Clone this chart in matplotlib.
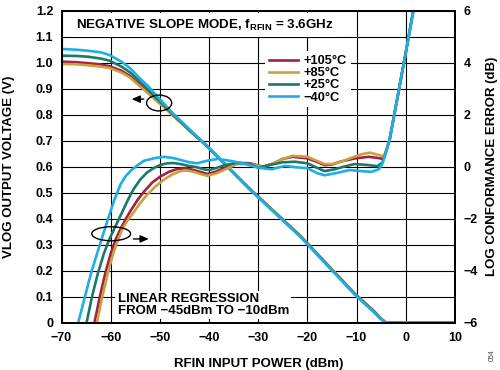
import matplotlib
matplotlib.use("Agg")
import matplotlib.pyplot as plt
from matplotlib.patches import Ellipse

plt.rcParams["font.family"] = ["Liberation Sans", "DejaVu Sans"]
plt.rcParams["font.weight"] = "bold"
plt.rcParams["mathtext.fontset"] = "custom"
plt.rcParams["mathtext.bf"] = "Liberation Sans:bold"
plt.rcParams["mathtext.rm"] = "Liberation Sans:bold"

# legend labels / colours
temps = ["+105°C", "+85°C", "+25°C", "\u221240°C"]
colors = ["#A3203F", "#C9A043", "#1A7A68", "#1EAEE6"]

# VLOG output voltage (left axis), shared input power points
vlog_p = [-70, -67, -64.6, -62, -60.3, -57.8, -56, -54.4, -52.5, -51, -49,
          -47.6, -44.2, -40.6, -32, -21.5, -10.3, -6.5, -5, -4, 0, 10]
vlog_105 = [1.004, 1.002, 0.998, 0.993, 0.987, 0.969, 0.948, 0.921, 0.888, 0.862, 0.828,
            0.803, 0.743, 0.683, 0.52, 0.335, 0.11, 0.045, 0.015, 0.0, 0.0, 0.0]
vlog_85 = [0.995, 0.994, 0.990, 0.985, 0.980, 0.962, 0.942, 0.915, 0.884, 0.858, 0.826,
           0.801, 0.742, 0.682, 0.52, 0.335, 0.11, 0.045, 0.015, 0.0, 0.0, 0.0]
vlog_25 = [1.027, 1.026, 1.023, 1.016, 1.008, 0.985, 0.962, 0.933, 0.898, 0.869, 0.832,
           0.806, 0.744, 0.682, 0.518, 0.333, 0.108, 0.043, 0.013, 0.0, 0.0, 0.0]
vlog_m40 = [1.053, 1.050, 1.046, 1.040, 1.030, 1.004, 0.978, 0.946, 0.912, 0.880, 0.839,
            0.810, 0.748, 0.683, 0.517, 0.331, 0.106, 0.040, 0.012, 0.0, 0.0, 0.0]

# log conformance error (right axis)
err_p_105 = [-65, -63.3, -62.2, -61.1, -60, -59, -58, -56.9, -55.9, -54.5, -53.2, -51.5,
             -49.9, -48.2, -46.5, -44.8, -43.1, -41.8, -40.4, -38.7, -37, -34.4, -31.7,
             -29, -27, -25, -23, -20, -18, -16.5, -15, -13.4, -10.3, -7.5, -5.5, -4.8,
             -4.2, -3.3, -2, 0, 2]
err_105 = [-7.4, -6, -5.0, -4.1, -3.35, -2.8, -2.4, -2.0, -1.68, -1.27, -0.95, -0.6,
           -0.38, -0.2, -0.09, -0.06, -0.13, -0.2, -0.28, -0.2, -0.06, 0.15, 0.13,
           0.0, 0.12, 0.3, 0.38, 0.32, 0.18, 0.06, 0.08, 0.19, 0.32, 0.38, 0.33, 0.3,
           0.48, 1.03, 2.35, 4.4, 6.5]

err_p_85 = [-64.5, -62.8, -61.7, -60.6, -59.5, -58.5, -57.5, -56.5, -55.3, -54, -52.6,
            -51, -49.2, -47.5, -45.8, -44.4, -43.1, -41.8, -40.4, -38.7, -37, -34.4,
            -31.7, -29, -27, -25, -23, -20, -18, -16.5, -15, -13, -11.4, -9, -7.3,
            -5.5, -4.8, -4.2, -3.3, -2, 0, 2]
err_85 = [-7.4, -6, -5.0, -4.1, -3.35, -2.8, -2.35, -2.05, -1.75, -1.4, -1.08,
          -0.78, -0.5, -0.3, -0.17, -0.15, -0.2, -0.28, -0.35, -0.27, -0.13, 0.1,
          0.1, 0.0, 0.12, 0.3, 0.42, 0.38, 0.22, 0.1, 0.1, 0.2, 0.32, 0.48, 0.54,
          0.45, 0.4, 0.5, 1.03, 2.35, 4.4, 6.5]

err_p_25 = [-66.6, -64.9, -63.8, -62.6, -61.4, -60.3, -59.3, -58.3, -57.3, -56.3, -55.3,
            -54, -52.6, -51.2, -49.9, -48.5, -47.2, -45.8, -44.4, -42.5, -41.1, -40,
            -38.5, -37, -34.4, -31.7, -30, -28, -25, -22.5, -20, -18, -16.5, -14.5,
            -13, -10.5, -8, -5.8, -4.8, -4.2, -3.3, -2, 0, 2]
err_25 = [-7.4, -6, -5.0, -4.1, -3.35, -2.8, -2.4, -2.0, -1.6, -1.2, -0.85,
          -0.5, -0.22, -0.05, 0.07, 0.13, 0.14, 0.1, 0.04, -0.02, -0.1, -0.13,
          -0.05, 0.05, 0.15, 0.1, -0.04, 0.05, 0.17, 0.19, 0.13, -0.05, -0.17, -0.1,
          -0.02, 0.1, 0.07, 0.02, 0.15, 0.45, 1.03, 2.35, 4.4, 6.5]

err_p_m40 = [-68.2, -66.6, -65.3, -64, -62.7, -61.7, -60.7, -59.3, -58, -57, -55.9,
             -54.5, -53.2, -51, -49.2, -47.5, -45.8, -44, -42.4, -40.4, -38.2, -35.5,
             -33, -30, -27.3, -24.6, -22.4, -20, -18, -16.5, -14, -11.5, -9, -7, -5.5,
             -4.8, -4.2, -3.3, -2, 0, 2]
err_m40 = [-7.2, -6, -5.05, -4.1, -3.3, -2.7, -2.1, -1.3, -0.68, -0.38, -0.15,
           0.06, 0.23, 0.33, 0.38, 0.34, 0.26, 0.17, 0.13, 0.23, 0.3, 0.22,
           0.12, -0.04, -0.1, 0.03, -0.02, -0.06, -0.25, -0.33, -0.24, -0.13, -0.17,
           -0.2, -0.1, 0.1, 0.45, 1.03, 2.35, 4.4, 6.5]

x_ticks = [-70, -60, -50, -40, -30, -20, -10, 0, 10]
left_ticks = [0, 0.1, 0.2, 0.3, 0.4, 0.5, 0.6, 0.7, 0.8, 0.9, 1.0, 1.1, 1.2]
left_labels = ["0", "0.1", "0.2", "0.3", "0.4", "0.5", "0.6", "0.7", "0.8", "0.9", "1.0", "1.1", "1.2"]
right_ticks = [-6, -4, -2, 0, 2, 4, 6]

vlog = [vlog_105, vlog_85, vlog_25, vlog_m40]
err_p = [err_p_105, err_p_85, err_p_25, err_p_m40]
err = [err_105, err_85, err_25, err_m40]

fig = plt.figure(figsize=(5.0, 3.7), dpi=100)
ax = fig.add_axes([0.123, 0.128, 0.787, 0.843])
ax2 = ax.twinx()

for v, c in zip(vlog, colors):
    ax.plot(vlog_p, v, color=c, lw=1.9, solid_capstyle="butt")
lines = []
for p, e, c, t in zip(err_p, err, colors, temps):
    ln, = ax2.plot(p, e, color=c, lw=1.9, label=t)
    lines.append(ln)

ax.set_xlim(-70, 10)
ax.set_ylim(0, 1.2)
ax2.set_ylim(-6, 6)
ax.set_xticks(x_ticks)
ax.set_xticklabels([str(x).replace("-", "\u2212") for x in x_ticks])
ax.set_yticks(left_ticks)
ax.set_yticklabels(left_labels)
ax2.set_yticks(right_ticks)
ax2.set_yticklabels([str(x).replace("-", "\u2212") for x in right_ticks])

ax.grid(True, color="black", lw=0.8)
ax.set_axisbelow(True)
for a in (ax, ax2):
    for s in a.spines.values():
        s.set_linewidth(1.3)
    a.tick_params(length=0, labelsize=9, pad=6)
ax.tick_params(axis="x", pad=7)

ax.set_xlabel("RFIN INPUT POWER (dBm)", fontsize=9.5, fontweight="bold")
ax.xaxis.set_label_coords(0.5, -0.113)
ax.set_ylabel("VLOG OUTPUT VOLTAGE (V)", fontsize=9.5, fontweight="bold")
ax.yaxis.set_label_coords(-0.118, 0.5)
ax2.set_ylabel("LOG CONFORMANCE ERROR (dB)", fontsize=9.5, fontweight="bold")
ax2.yaxis.set_label_coords(1.078, 0.5)

ax.text(-67.1, 1.145, r"NEGATIVE SLOPE MODE, $\mathbf{f}_{\mathbf{RFIN}}$ = 3.6GHz",
        fontsize=9.6, fontweight="bold", va="center", ha="left", zorder=5,
        bbox=dict(facecolor="white", edgecolor="none", pad=3.5))

ax2.text(-58.6, 0.022 * 10 - 6, "LINEAR REGRESSION\nFROM \u221245dBm TO \u221210dBm",
         fontsize=9.5, fontweight="bold", va="bottom", ha="left", linespacing=0.95,
         zorder=5, bbox=dict(facecolor="white", edgecolor="none", pad=1.5))

ax2.add_patch(Ellipse((-50.15, (0.845 - 0.6) * 10), 5.1, 0.61, fill=False,
                      edgecolor="black", lw=1.0, zorder=6))
ax2.annotate("", xy=(-56.3, (0.86 - 0.6) * 10), xytext=(-52.7, (0.86 - 0.6) * 10),
             arrowprops=dict(arrowstyle="-|>,head_length=0.5,head_width=0.22",
                             color="black", lw=1.0, mutation_scale=10),
             zorder=6)
ax2.add_patch(Ellipse((-59.9, (0.342 - 0.6) * 10), 7.9, 0.54, fill=False,
                      edgecolor="black", lw=1.0, zorder=6))
ax2.annotate("", xy=(-51.7, (0.322 - 0.6) * 10), xytext=(-55.95, (0.322 - 0.6) * 10),
             arrowprops=dict(arrowstyle="-|>,head_length=0.5,head_width=0.22",
                             color="black", lw=1.0, mutation_scale=10),
             zorder=6)

leg = ax2.legend(handles=lines, loc="upper left", bbox_to_anchor=(0.5, 0.89),
                 fontsize=9.3, frameon=True, framealpha=1, edgecolor="none",
                 fancybox=False, handlelength=2.3, labelspacing=0.0,
                 handletextpad=0.4, borderpad=0.3)
leg.set_zorder(7)
for t in leg.get_texts():
    t.set_fontweight("bold")

fig.text(0.985, 0.04, "054", rotation=90, fontsize=5, color="#444444",
         ha="center", va="center", fontweight="normal")

fig.savefig("out.png", dpi=100)
